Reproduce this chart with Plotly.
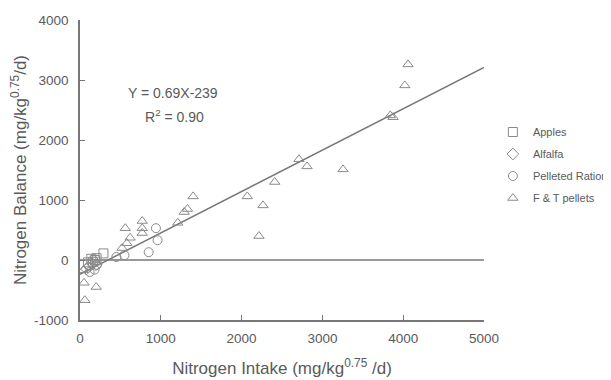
import plotly.graph_objects as go

# ---- data ----
apples_x = [100, 140, 160, 185, 205, 290]
apples_y = [-40, 20, -30, 0, 30, 110]

alfalfa_x = [80, 120, 150, 175, 200]
alfalfa_y = [-150, -100, -60, -20, -80]

pellet_x = [120, 180, 210, 450, 550, 850, 940, 960]
pellet_y = [-200, -160, -80, 50, 80, 130, 530, 330]

ft_x = [40, 50, 60, 200, 520, 560, 580, 620, 770, 770, 770, 1210, 1290, 1330, 1400,
        2070, 2215, 2265, 2410, 2710, 2810, 3255, 3840, 3875, 4020, 4060]
ft_y = [-170, -380, -670, -450, 200, 530, 280, 370, 650, 530, 450, 620, 800, 850, 1060,
        1060, 400, 910, 1300, 1680, 1560, 1510, 2410, 2380, 2910, 3260]

slope = 0.69
intercept = -239
fit_x = [0, 5000]
x_ticks = [0, 1000, 2000, 3000, 4000, 5000]
y_ticks = [-1000, 0, 1000, 2000, 3000, 4000]

gray = "#777777"
txt = "#5a5a5a"
font = "Liberation Sans, Arial, sans-serif"

fig = go.Figure()

fig.add_trace(go.Scatter(x=fit_x, y=[slope * v + intercept for v in fit_x], mode="lines",
                         line=dict(color=gray, width=1.5), showlegend=False, hoverinfo="skip"))
fig.add_trace(go.Scatter(x=fit_x, y=[0, 0], mode="lines",
                         line=dict(color=gray, width=1.5), showlegend=False, hoverinfo="skip"))

mk = dict(color="#8a8a8a", size=9, line=dict(color="#8a8a8a", width=1))
fig.add_trace(go.Scatter(x=apples_x, y=apples_y, mode="markers", name="Apples",
                         legendgroup="a", marker=dict(symbol="square-open", **mk)))
fig.add_trace(go.Scatter(x=alfalfa_x, y=alfalfa_y, mode="markers", name="Alfalfa",
                         legendgroup="b", marker=dict(symbol="diamond-open", **mk)))
fig.add_trace(go.Scatter(x=pellet_x, y=pellet_y, mode="markers", name="Pelleted Ration",
                         legendgroup="c", marker=dict(symbol="circle-open", **mk)))
fig.add_trace(go.Scatter(x=ft_x, y=ft_y, mode="markers", name="F & T pellets",
                         legendgroup="d", marker=dict(symbol="triangle-up-open", **mk)))

fig.add_annotation(x=1150, y=2780, xref="x", yref="y", showarrow=False,
                   text="Y = 0.69X-239", font=dict(size=14, color=txt, family=font))
fig.add_annotation(x=1170, y=2400, xref="x", yref="y", showarrow=False,
                   text="R<sup>2</sup> = 0.90", font=dict(size=14, color=txt, family=font))

fig.update_layout(
    width=611, height=380,
    margin=dict(l=72, r=135, t=12, b=68, autoexpand=False),
    paper_bgcolor="white", plot_bgcolor="white",
    font=dict(family=font, color=txt, size=13),
    legend=dict(x=1.022, y=0.675, xanchor="left", yanchor="top",
                font=dict(size=11, color=txt, family=font),
                bgcolor="rgba(0,0,0,0)", tracegroupgap=3, itemwidth=30),
    xaxis=dict(range=[0, 5000], tickvals=x_ticks, ticktext=[str(v) for v in x_ticks],
               ticks="inside", ticklen=5,
               tickcolor=gray, showline=True, linecolor=gray, linewidth=1.5,
               showgrid=False, zeroline=False, automargin=False,
               ticklabelstandoff=5,
               title=dict(text="Nitrogen Intake (mg/kg<sup>0.75</sup> /d)",
                          font=dict(size=17, color=txt), standoff=17),
               tickfont=dict(size=13.5, color=txt)),
    yaxis=dict(range=[-1000, 4000], tickvals=y_ticks, ticktext=[str(v) for v in y_ticks],
               ticks="inside", ticklen=5,
               tickcolor=gray, showline=True, linecolor=gray, linewidth=1.5,
               showgrid=False, zeroline=False, automargin=False,
               ticklabelstandoff=7,
               title=dict(text="Nitrogen Balance (mg/kg<sup>0.75</sup>/d)",
                          font=dict(size=17, color=txt), standoff=11),
               tickfont=dict(size=13.5, color=txt)),
)

fig.write_html("out.html")
